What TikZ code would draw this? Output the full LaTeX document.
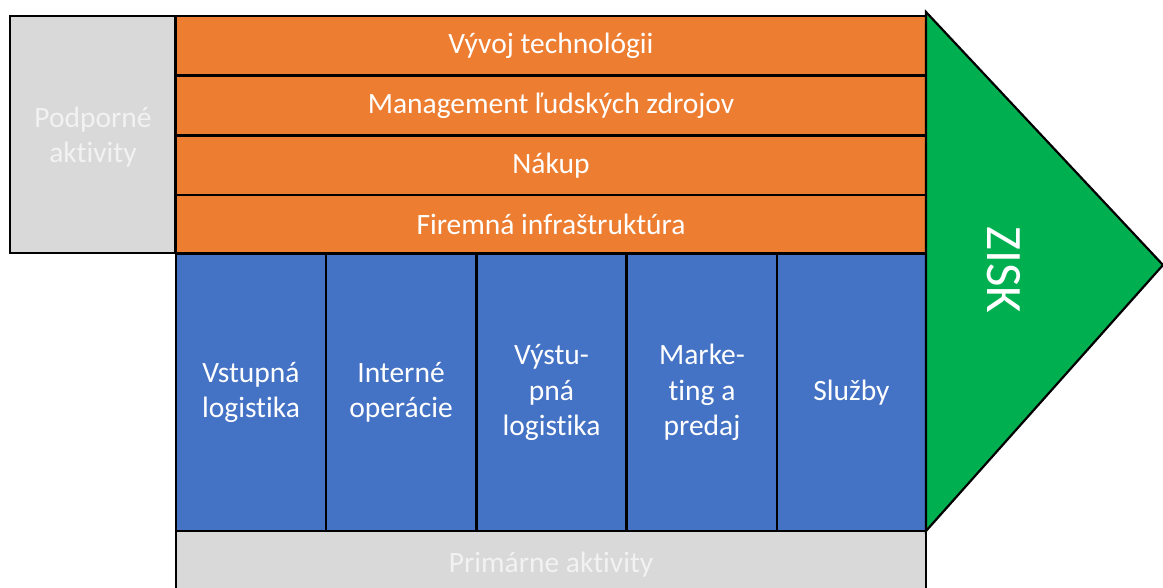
\documentclass[tikz,border=0pt]{standalone}
\usepackage{fontspec}
\setmainfont[Ligatures={NoCommon}]{Carlito}
\definecolor{org}{HTML}{ED7D31}
\definecolor{blu}{HTML}{4472C4}
\definecolor{grn}{HTML}{00B050}
\definecolor{gry}{HTML}{D9D9D9}
\definecolor{lt}{HTML}{F2F2F2}
\begin{document}
\begin{tikzpicture}[x=1pt,y=-1pt,
  box/.style={draw=black,line width=2.2pt,anchor=north west,inner sep=0pt,outer sep=0pt,align=center,text=white},
  orangebar/.style={box,fill=org,minimum width=750pt,minimum height=59pt,font=\fontsize{29.5}{36}\selectfont},
  bluecol/.style={box,fill=blu,minimum width=150pt,minimum height=277pt,font=\fontsize{29.5}{35.5}\selectfont},
  graybox/.style={box,fill=gry,text=lt,font=\fontsize{29.5}{35.5}\selectfont}]
\useasboundingbox (0,0) rectangle (1163,587);
\begin{scope}
\clip (0,0) rectangle (1163,587);
\node[graybox,minimum width=165pt,minimum height=237pt] (pod) at (10,16) {};
\node[text=lt,align=center,font=\fontsize{29.5}{35.5}\selectfont] (podt) at (93,137) {Podporné\\aktivity};
\node[orangebar] (o1) at (176,16) {Vývoj technológii};
\node[orangebar] (o2) at (176,76) {Management ľudských zdrojov};
\node[orangebar] (o3) at (176,136) {Nákup};
\node[orangebar,minimum height=58pt] (o4) at (176,195) {Firemná infraštruktúra};
\node[bluecol] (b1) at (176,254) {Vstupná\\logistika};
\node[bluecol] (b2) at (326,254) {Interné\\operácie};
\node[bluecol] (b3) at (476.5,254) {Výstu-\\pná\\logistika};
\node[bluecol] (b4) at (627,254) {Marke-\\ting a\\predaj};
\node[bluecol,minimum width=149pt] (b5) at (777,254) {Služby};
\node[graybox,minimum width=750pt,minimum height=70pt] (prim) at (176,531) {};
\node[text=lt,font=\fontsize{29.5}{36}\selectfont] (primt) at (551,565) {Primárne aktivity};
\draw[line width=2.2pt,fill=grn,line join=miter] (926,12) -- (1163,265) -- (926,531) -- cycle;
\node[text=white,rotate=-90,font=\fontsize{51}{51}\selectfont] (zisk) at (1004,270) {ZISK};
\end{scope}
\end{tikzpicture}
\end{document}
